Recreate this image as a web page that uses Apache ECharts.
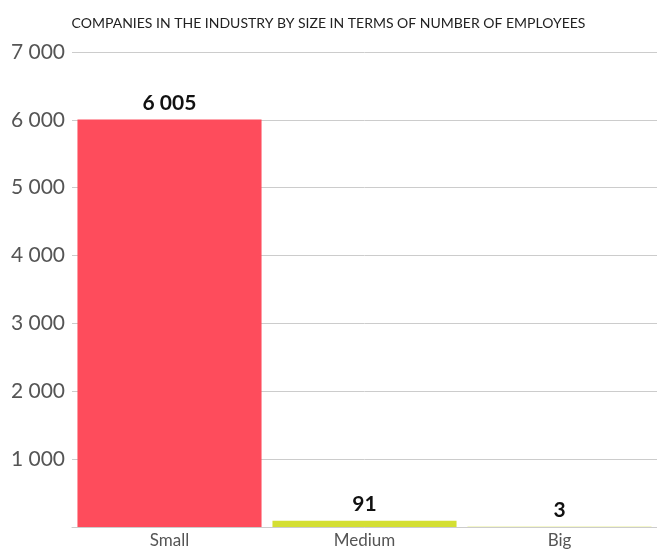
<!DOCTYPE html>
<html>
<head>
<meta charset="utf-8">
<script src="https://cdn.jsdelivr.net/npm/echarts@6/dist/echarts.min.js"></script>
<style>html,body{margin:0;padding:0;background:#fff}#c{width:657px;height:550px}</style>
</head>
<body>
<div id="c"></div>
<script>
const titleText = 'COMPANIES IN THE INDUSTRY BY SIZE IN TERMS OF NUMBER OF EMPLOYEES';
const categories = ['Small', 'Medium', 'Big'];
const values = [6005, 91, 3];
const colors = ['#fe4c5c', '#d4df33', '#d4df33'];
const yTicks = [0, 1000, 2000, 3000, 4000, 5000, 6000, 7000];

const fmt = v => String(v).replace(/\B(?=(\d{3})+(?!\d))/g, ' ');
const chart = echarts.init(document.getElementById('c'));
chart.setOption({
  animation: false,
  title: {
    text: titleText, left: 'center', top: 11,
    textStyle: {fontFamily: 'Lato', fontSize: 14, fontWeight: 'normal', color: '#222'}
  },
  grid: {left: 72, right: 0, top: 52, bottom: 23},
  xAxis: {
    type: 'category', data: categories,
    axisLine: {lineStyle: {color: '#cccccc'}},
    axisTick: {length: 4, lineStyle: {color: '#cccccc'}},
    axisLabel: {fontFamily: 'Lato', fontSize: 17, color: '#555', margin: 5}
  },
  yAxis: {
    type: 'value', min: yTicks[0], max: yTicks[yTicks.length - 1], interval: 1000,
    axisLine: {show: false}, axisTick: {show: false},
    axisLabel: {fontFamily: 'Lato', fontSize: 21, color: '#555', margin: 7,
      formatter: v => v === 0 ? '' : fmt(v)},
    splitLine: {lineStyle: {color: '#cccccc'}}
  },
  series: [{
    type: 'bar', barCategoryGap: '5.6%',
    data: values.map((v, i) => ({value: v, itemStyle: {color: colors[i]}})),
    label: {show: true, position: 'top', distance: 6, formatter: p => fmt(p.value),
      fontFamily: 'Lato', fontSize: 21, fontWeight: 'bold', color: '#111'}
  }]
});
</script>
</body>
</html>
